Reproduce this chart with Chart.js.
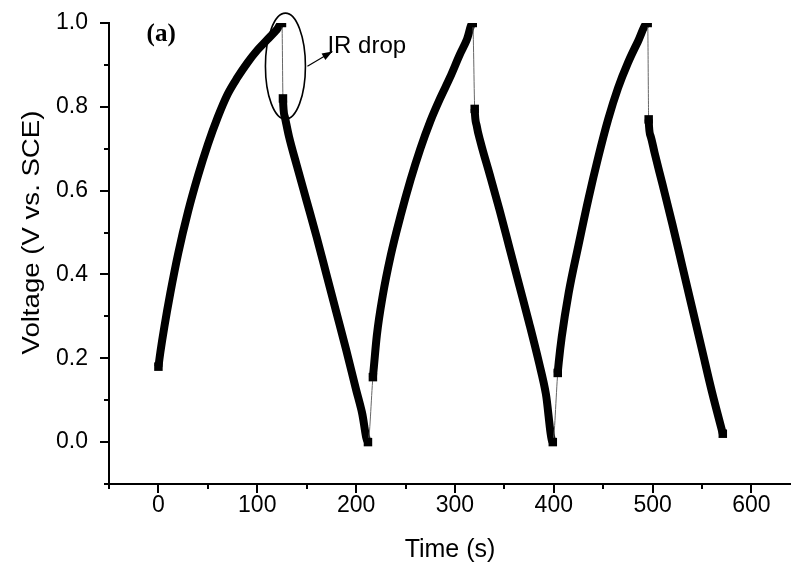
<!DOCTYPE html>
<html>
<head>
<meta charset="utf-8">
<script src="https://cdn.jsdelivr.net/npm/chart.js@4"></script>
<style>
  html, body { margin: 0; padding: 0; background: #fff; overflow: hidden; }
  #wrap { width: 791px; height: 572px; }
</style>
</head>
<body>
<div id="wrap"><canvas id="gcdChart"></canvas></div>
<script>
// time (s) and voltage (V vs. SCE) per branch
const charge1T = [0, 2, 6, 12, 20, 30, 40, 50, 60, 70, 80, 90, 100, 110, 120, 125];
const charge1V = [0.18, 0.215, 0.275, 0.355, 0.45, 0.55, 0.635, 0.71, 0.775, 0.83, 0.87, 0.905, 0.935, 0.96, 0.985, 1.0];
const discharge1T = [126, 128, 132, 140, 150, 160, 170, 180, 190, 200, 206, 212];
const discharge1V = [0.82, 0.775, 0.73, 0.66, 0.575, 0.49, 0.40, 0.31, 0.22, 0.125, 0.07, 0.0];
const charge2T = [217, 218, 221, 227, 235, 245, 255, 265, 275, 285, 295, 305, 312, 318];
const charge2V = [0.155, 0.18, 0.255, 0.35, 0.445, 0.54, 0.625, 0.70, 0.765, 0.82, 0.87, 0.925, 0.96, 1.0];
const discharge2T = [320, 322, 326, 335, 345, 355, 365, 375, 385, 392, 399];
const discharge2V = [0.795, 0.755, 0.715, 0.64, 0.555, 0.465, 0.375, 0.285, 0.19, 0.115, 0.0];
const charge3T = [404, 405, 408, 415, 425, 435, 445, 455, 465, 475, 485, 495];
const charge3V = [0.165, 0.19, 0.25, 0.355, 0.47, 0.58, 0.68, 0.77, 0.845, 0.905, 0.955, 1.0];
const discharge3T = [496, 498, 502, 510, 520, 530, 540, 550, 560, 571];
const discharge3V = [0.77, 0.73, 0.69, 0.615, 0.52, 0.42, 0.32, 0.22, 0.12, 0.02];

const xTitle = "Time (s)";
const yTitle = "Voltage (V vs. SCE)";
const panelLabel = "(a)";
const noteText = "IR drop";

const branches = [
  [charge1T, charge1V], [discharge1T, discharge1V],
  [charge2T, charge2V], [discharge2T, discharge2V],
  [charge3T, charge3V], [discharge3T, discharge3V],
];

// one series, thin line where one branch jumps to the next
const points = [];
const branchStart = new Set();
const branchEnds = new Set();
branches.forEach(([ts, vs]) => {
  branchStart.add(points.length);
  branchEnds.add(points.length);
  ts.forEach((t, i) => points.push({ x: t, y: vs[i] }));
  branchEnds.add(points.length - 1);
});

// minor / major ticks drawn by hand so they can have two lengths
const tickMarks = {
  id: "tickMarks",
  afterDraw(chart) {
    const { ctx, scales } = chart;
    ctx.save();
    ctx.strokeStyle = "#000";
    ctx.lineWidth = 2;
    const xs = scales.x, ys = scales.y;
    xs.ticks.forEach((t) => {
      const px = Math.round(xs.getPixelForValue(t.value));
      const len = t.value % 100 === 0 ? 9 : 5;
      ctx.beginPath();
      ctx.moveTo(px, xs.top);
      ctx.lineTo(px, xs.top + len);
      ctx.stroke();
    });
    ys.ticks.forEach((t) => {
      const py = Math.round(ys.getPixelForValue(t.value));
      const major = Math.abs(t.value * 5 - Math.round(t.value * 5)) < 1e-6;
      const len = major ? 9 : 5;
      ctx.beginPath();
      ctx.moveTo(ys.right, py);
      ctx.lineTo(ys.right - len, py);
      ctx.stroke();
    });
    ctx.restore();
  },
};

// y title, a little stretched along its length as in the source figure
const yTitleDraw = {
  id: "yTitleDraw",
  afterDraw(chart) {
    const { ctx, scales } = chart;
    ctx.save();
    ctx.translate(33, scales.y.getPixelForValue(0.5));
    ctx.rotate(-Math.PI / 2);
    ctx.scale(1.2, 1);
    ctx.font = "23px 'Liberation Sans'";
    ctx.fillStyle = "#000";
    ctx.textAlign = "center";
    ctx.textBaseline = "middle";
    ctx.fillText(yTitle, 0, 0);
    ctx.restore();
  },
};

// "(a)", the ellipse round the IR drop and the arrow to its label
const notes = {
  id: "notes",
  afterDatasetsDraw(chart) {
    const { ctx, scales } = chart;
    const X = (v) => scales.x.getPixelForValue(v);
    const Y = (v) => scales.y.getPixelForValue(v);
    ctx.save();
    ctx.fillStyle = "#000";
    ctx.strokeStyle = "#000";

    ctx.font = "bold 25px 'Liberation Serif'";
    ctx.textBaseline = "middle";
    ctx.fillText(panelLabel, X(-12), Y(0.973));

    ctx.lineWidth = 1.6;
    ctx.beginPath();
    ctx.ellipse(X(128.5), Y(0.897), 20, 53, 0, 0, Math.PI * 2);
    ctx.stroke();

    const ax0 = X(128.5) + 22, ay0 = Y(0.897);
    const ax1 = X(176), ay1 = Y(0.932);
    ctx.lineWidth = 1.2;
    ctx.beginPath();
    ctx.moveTo(ax0, ay0);
    ctx.lineTo(ax1, ay1);
    ctx.stroke();
    const ang = Math.atan2(ay1 - ay0, ax1 - ax0);
    ctx.beginPath();
    ctx.moveTo(ax1, ay1);
    ctx.lineTo(ax1 - 11 * Math.cos(ang - 0.35), ay1 - 11 * Math.sin(ang - 0.35));
    ctx.lineTo(ax1 - 11 * Math.cos(ang + 0.35), ay1 - 11 * Math.sin(ang + 0.35));
    ctx.closePath();
    ctx.fill();

    ctx.font = "24px 'Liberation Sans'";
    ctx.fillText(noteText, X(171), Y(0.945));
    ctx.restore();
  },
};

new Chart(document.getElementById("gcdChart"), {
  type: "line",
  data: {
    datasets: [{
      data: points,
      borderColor: "#000",
      backgroundColor: "#000",
      borderWidth: 8,
      borderJoinStyle: "round",
      pointStyle: "rect",
      pointRadius: (c) => (branchEnds.has(c.dataIndex) ? 6 : 0),
      pointBorderWidth: 0,
      cubicInterpolationMode: "monotone",
      segment: {
        borderWidth: (c) => (branchStart.has(c.p1DataIndex) ? 1 : 8),
        borderColor: (c) => (branchStart.has(c.p1DataIndex) ? "#666" : "#000"),
      },
    }],
  },
  options: {
    responsive: true,
    maintainAspectRatio: false,
    animation: false,
    layout: { autoPadding: false, padding: { top: 23, right: 0, bottom: 0, left: 1 } },
    plugins: {
      legend: { display: false },
      tooltip: { enabled: false },
    },
    scales: {
      x: {
        type: "linear",
        min: -50,
        max: 640,
        afterFit: (s) => { s.height = 88; s.paddingRight = 0; s.paddingLeft = 0; },
        afterBuildTicks: (s) => { s.ticks = s.ticks.filter((t) => t.value % 50 === 0); },
        ticks: {
          stepSize: 50,
          includeBounds: false,
          padding: 8,
          color: "#000",
          font: { family: "'Liberation Sans'", size: 23 },
          maxRotation: 0,
          autoSkip: false,
          callback: (v) => (v % 100 === 0 ? String(v) : ""),
        },
        grid: { display: false, drawTicks: false },
        border: { display: true, color: "#000", width: 2 },
        title: {
          display: true,
          text: xTitle,
          color: "#000",
          font: { family: "'Liberation Sans'", size: 25 },
          padding: { top: 10, bottom: 7 },
        },
      },
      y: {
        type: "linear",
        min: -0.1,
        max: 1.0,
        afterFit: (s) => { s.width = 108; s.paddingTop = 0; s.paddingBottom = 0; },
        ticks: {
          stepSize: 0.1,
          padding: 21,
          color: "#000",
          font: { family: "'Liberation Sans'", size: 23 },
          autoSkip: false,
          callback: (v) => {
            const major = Math.abs(v * 5 - Math.round(v * 5)) < 1e-6;
            return major && v >= 0 ? v.toFixed(1) : "";
          },
        },
        grid: { display: false, drawTicks: false },
        border: { display: true, color: "#000", width: 2 },
      },
    },
  },
  plugins: [tickMarks, yTitleDraw, notes],
});
</script>
</body>
</html>
